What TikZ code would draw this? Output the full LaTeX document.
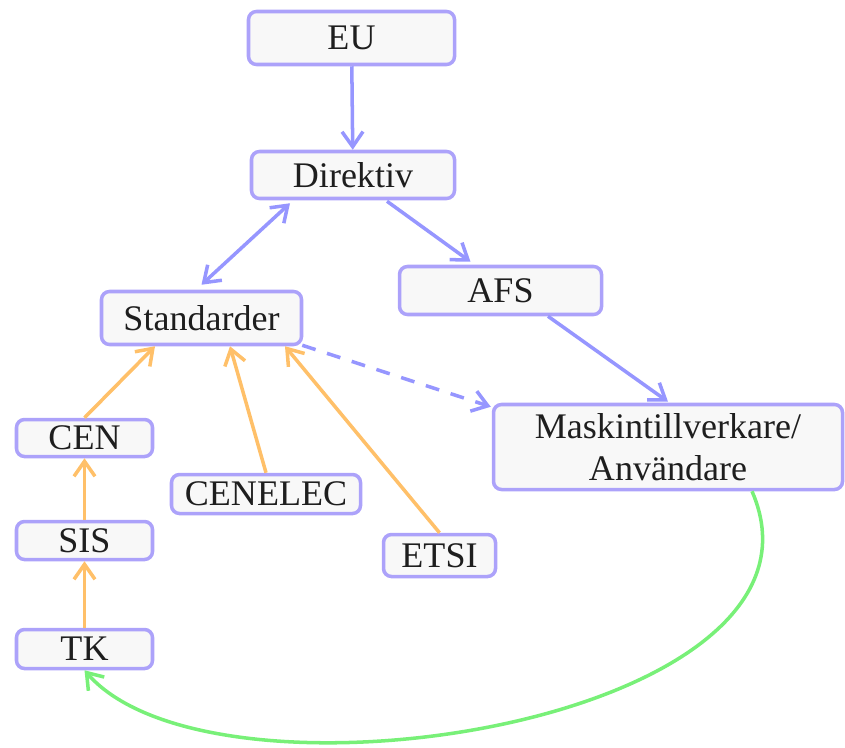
\documentclass[tikz,border=0pt]{standalone}
\usepackage{fontspec}
\setmainfont{Liberation Serif}
\usetikzlibrary{arrows.meta}
\definecolor{boxline}{RGB}{172,162,250}
\definecolor{boxfill}{RGB}{248,248,248}
\definecolor{bluearrow}{RGB}{150,150,255}
\definecolor{orangearrow}{RGB}{255,192,105}
\definecolor{greenarrow}{RGB}{120,240,120}
\definecolor{boxtext}{RGB}{30,30,30}
\tikzset{
	box/.style={draw=boxline, fill=boxfill, line width=2pt, rounded corners=0.16cm,
		text=boxtext, font=\fontsize{20.5}{24}\selectfont, align=center, inner sep=0pt},
	barb/.style={-{Straight Barb[length=0.3cm,width=0.42cm]}},
	blueline/.style={draw=bluearrow, line width=2pt, barb},
	orangeline/.style={draw=orangearrow, line width=2pt, barb},
	greenline/.style={draw=greenarrow, line width=2pt, barb}
}

\begin{document}
\begin{tikzpicture}
			%%%%% START %%%%%
			\useasboundingbox (0, 0) rectangle (16.9, 14.94);
			
			\node[box, minimum width=4.12cm, minimum height=1.06cm] (eu) at (7.03, 14.18) {EU};
			\node[box, minimum width=4.06cm, minimum height=0.94cm] (direktiv) at (7.06, 11.44) {Direktiv};
			\node[box, minimum width=4.0cm, minimum height=1.06cm] (standarder) at (4.03, 8.58) {Standarder};
			\node[box, minimum width=4.04cm, minimum height=0.96cm] (afs) at (10.01, 9.13) {AFS};
			\node[box, minimum width=6.98cm, minimum height=1.7cm] (maskin) at (13.36, 6.0) {Maskintillverkare/\\Användare};
			
			\node[box, minimum width=2.72cm, minimum height=0.74cm] (cen) at (1.69, 6.18) {CEN};
			\node[box, minimum width=2.72cm, minimum height=0.76cm] (sis) at (1.69, 4.13) {SIS};
			\node[box, minimum width=2.72cm, minimum height=0.78cm] (tk) at (1.69, 1.96) {TK};
			\node[box, minimum width=3.78cm, minimum height=0.78cm] (cenelec) at (5.32, 5.06) {CENELEC};
			\node[box, minimum width=2.24cm, minimum height=0.84cm] (etsi) at (8.79, 3.83) {ETSI};
			
			% blue flow
			\draw[blueline] (eu) -- (direktiv);
			\draw[blueline, {Straight Barb[length=0.3cm,width=0.42cm]}-{Straight Barb[length=0.3cm,width=0.42cm]}] ([xshift=-1.26cm, yshift=-0.06cm]direktiv.south) -- ([yshift=0.1cm]standarder.north);
			\draw[blueline] ([xshift=0.68cm, yshift=-0.02cm]direktiv.south) -- ([xshift=-0.6cm, yshift=0.06cm]afs.north);
			\draw[blueline] ([xshift=0.95cm]afs.south) -- ([yshift=0.02cm]maskin.north);
			\draw[blueline, dash pattern=on 0.28cm off 0.24cm] ([xshift=-0.02cm, yshift=0.02cm]standarder.south east) -- ([xshift=-0.02cm, yshift=-0.08cm]maskin.north west);
			
			% orange flow
			\draw[orangeline] (cen.north) -- ([xshift=-0.93cm]standarder.south);
			\draw[orangeline] (cenelec.north) -- ([xshift=0.57cm]standarder.south);
			\draw[orangeline] (etsi.north) -- ([xshift=1.67cm]standarder.south);
			\draw[orangeline] (sis) -- (cen);
			\draw[orangeline] (tk) -- (sis);
			
			% feedback
			\draw[greenline] ([xshift=1.68cm]maskin.south) .. controls +(2.0,-4.6) and +(2.6,-3.0) .. (tk.south);
			
			%%%%% END %%%%%
\end{tikzpicture}
\end{document}
